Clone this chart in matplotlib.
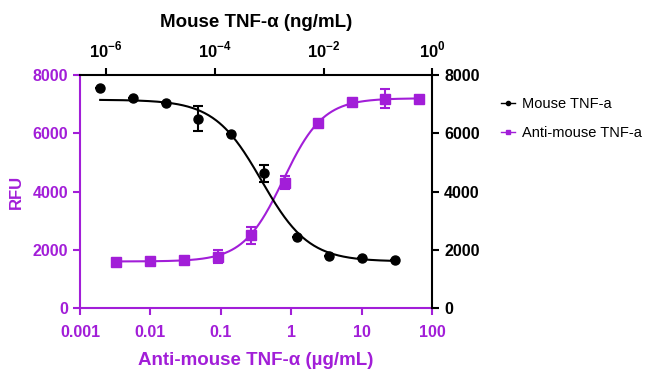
import numpy as np
import matplotlib
matplotlib.use("Agg")
import matplotlib.pyplot as plt
from matplotlib.lines import Line2D

plt.rcParams["mathtext.fontset"] = "custom"
plt.rcParams["mathtext.rm"] = "Liberation Sans:bold"
plt.rcParams["mathtext.bf"] = "Liberation Sans:bold"

PURPLE = "#A21ED8"

# Mouse TNF-a (top axis, ng/mL), 4-fold dilutions
tnf_conc = [7.8e-7, 3.1e-6, 1.25e-5, 5.0e-5, 2.0e-4, 8.0e-4, 3.2e-3, 1.28e-2, 5.1e-2, 0.205]
tnf_rfu = [7570, 7200, 7050, 6500, 5980, 4620, 2440, 1800, 1720, 1650]
tnf_err = [0, 0, 0, 420, 0, 300, 0, 0, 0, 0]
tnf_fit = [7150, 1600, -3.14, -1.0]  # top, bottom, logEC50, hill

# Anti-mouse TNF-a (bottom axis, ug/mL), 3-fold dilutions
anti_conc = [0.0033, 0.0099, 0.03, 0.09, 0.27, 0.8, 2.4, 7.2, 21.6, 65.0]
anti_rfu = [1590, 1610, 1640, 1760, 2500, 4300, 6340, 7060, 7180, 7180]
anti_err = [100, 100, 100, 220, 300, 230, 0, 0, 330, 0]
anti_fit = [7200, 1600, -0.115, 1.53]

bottom_ticks = [0.001, 0.01, 0.1, 1, 10, 100]
bottom_labels = ["0.001", "0.01", "0.1", "1", "10", "100"]
top_ticks = [1e-6, 1e-4, 1e-2, 1]
top_labels = [r"$10^{-6}$", r"$10^{-4}$", r"$10^{-2}$", r"$10^{0}$"]
y_ticks = [0, 2000, 4000, 6000, 8000]


def four_pl(x, top, bottom, logec, hill):
    return bottom + (top - bottom) / (1 + 10 ** (hill * (logec - np.log10(x))))


fig = plt.figure(figsize=(6.5, 3.73), dpi=100)
ax = fig.add_axes([0.123, 0.174, 0.542, 0.625])
ax_top = ax.twiny()
ax_r = ax.twinx()

tick_font = {"family": "Liberation Sans", "weight": "bold", "size": 11.5}

# purple data on bottom axis
xs = np.logspace(np.log10(anti_conc[0]), np.log10(anti_conc[-1]), 300)
ax.plot(xs, four_pl(xs, *anti_fit), color=PURPLE, lw=1.5)
ax.errorbar(anti_conc, anti_rfu, yerr=anti_err, fmt="s", color=PURPLE, ms=6.5,
            capsize=3.5, elinewidth=1.5, capthick=1.5)
ax.set_xscale("log")
ax.set_xlim(0.001, 100)
ax.set_ylim(0, 8000)
ax.set_xticks(bottom_ticks)
ax.set_xticklabels(bottom_labels, fontdict=tick_font)
ax.minorticks_off()
ax.set_yticks(y_ticks)
ax.set_yticklabels([str(v) for v in y_ticks], fontdict=tick_font)
ax.tick_params(colors=PURPLE, width=1.5, length=5, direction="out")
ax.tick_params(axis="x", pad=7)
for s in ["left", "bottom"]:
    ax.spines[s].set_color(PURPLE)
    ax.spines[s].set_linewidth(1.5)
for s in ["top", "right"]:
    ax.spines[s].set_visible(False)
ax.set_ylabel("RFU", color=PURPLE, fontsize=12, fontweight="bold",
              family="Liberation Sans", labelpad=6)
ax.set_xlabel("Anti-mouse TNF-\u03b1 (\u00b5g/mL)", color=PURPLE, fontsize=13.5,
              fontweight="bold", family="Liberation Sans", labelpad=9)

# black data on top axis
xt = np.logspace(np.log10(tnf_conc[0]), np.log10(tnf_conc[-1]), 300)
ax_top.plot(xt, four_pl(xt, *tnf_fit), color="black", lw=1.5)
ax_top.errorbar(tnf_conc, tnf_rfu, yerr=tnf_err, fmt="o", color="black", ms=6.5,
                capsize=3.5, elinewidth=1.5, capthick=1.5)
ax_top.set_xscale("log")
ax_top.set_xlim(10 ** -6.48, 1)
ax_top.set_xticks(top_ticks)
ax_top.set_xticklabels(top_labels, fontsize=12)
ax_top.minorticks_off()
ax_top.tick_params(axis="x", colors="black", width=1.5, length=5, pad=5)
ax_top.set_xlabel("Mouse TNF-\u03b1 (ng/mL)", fontsize=13.5, fontweight="bold",
                  family="Liberation Sans", labelpad=10)
for s in ["left", "bottom", "right"]:
    ax_top.spines[s].set_visible(False)
ax_top.spines["top"].set_linewidth(1.5)

# right axis
ax_r.set_ylim(0, 8000)
ax_r.set_yticks(y_ticks)
ax_r.set_yticklabels([str(v) for v in y_ticks], fontdict=tick_font)
ax_r.tick_params(colors="black", width=1.5, length=5)
for s in ["left", "bottom", "top"]:
    ax_r.spines[s].set_visible(False)
ax_r.spines["right"].set_linewidth(1.5)

handles = [
    Line2D([], [], color="black", marker="o", ms=3, lw=1),
    Line2D([], [], color=PURPLE, marker="s", ms=3, lw=1),
]
fig.legend(handles, ["Mouse TNF-a", "Anti-mouse TNF-a"], loc="upper left",
           bbox_to_anchor=(0.75, 0.775), frameon=False, handlelength=1.0,
           handletextpad=0.5, labelspacing=1.0,
           prop={"family": "Liberation Sans", "size": 10.5})

fig.savefig("out.png", dpi=100)
